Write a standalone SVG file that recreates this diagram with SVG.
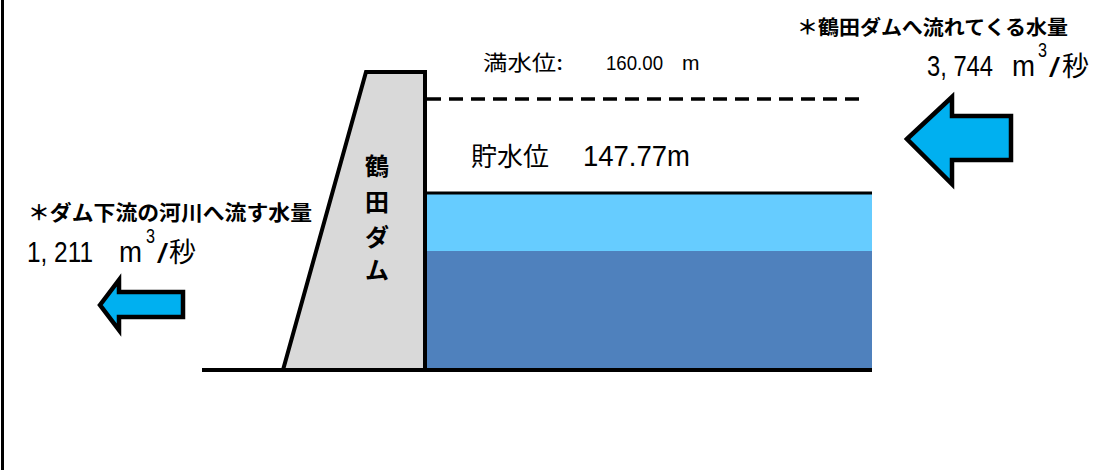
<svg xmlns="http://www.w3.org/2000/svg" width="1102" height="470" viewBox="0 0 1102 470">
<style>
.cjk{font-family:"Noto Sans CJK JP","Liberation Sans",sans-serif;fill:#000}
.num{font-family:"Liberation Sans","Noto Sans CJK JP",sans-serif;fill:#000}
.b{font-weight:bold}
.arrow{fill:#00B0F0;stroke:#000;stroke-width:4.5;stroke-linejoin:miter}
.ln{stroke:#000;fill:none}
</style>
<rect x="0" y="0" width="1102" height="470" fill="#fff"/>
<line class="ln" x1="2.5" y1="0" x2="2.5" y2="470" stroke-width="3"/>

<g id="water">
<rect x="427" y="193" width="445" height="58" fill="#66CCFF"/>
<rect x="427" y="251" width="445" height="119" fill="#4F81BD"/>
<line class="ln" x1="427" y1="193" x2="872" y2="193" stroke-width="3"/>
</g>

<g id="full-level">
<line class="ln" x1="427" y1="99" x2="864" y2="99" stroke-width="3.5" stroke-dasharray="14 8"/>
<text class="cjk" x="483" y="70" font-size="21" textLength="80" lengthAdjust="spacingAndGlyphs">満水位:</text>
<text class="num" x="606" y="70" font-size="21" textLength="57" lengthAdjust="spacingAndGlyphs">160.00</text>
<text class="num" x="682" y="70" font-size="21">m</text>
</g>

<g id="storage-level">
<text class="cjk" x="471" y="166" font-size="26">貯水位</text>
<text class="num" x="583" y="166" font-size="30" textLength="107" lengthAdjust="spacingAndGlyphs">147.77m</text>
</g>

<g id="ground">
<line class="ln" x1="202" y1="370" x2="872" y2="370" stroke-width="4"/>
</g>

<g id="dam">
<polygon points="366,72 425,72 425,370 283,370" fill="#D9D9D9" stroke="#000" stroke-width="4" stroke-linejoin="miter"/>
<text class="cjk b" x="377" y="175" font-size="24" text-anchor="middle" font-weight="900">鶴</text>
<text class="cjk b" x="377" y="211" font-size="24" text-anchor="middle" font-weight="900">田</text>
<text class="cjk b" x="377" y="246" font-size="24" text-anchor="middle" font-weight="900">ダ</text>
<text class="cjk b" x="377" y="279" font-size="24" text-anchor="middle" font-weight="900">ム</text>
</g>

<g id="inflow">
<text class="cjk b" x="797" y="35" font-size="20" textLength="271" lengthAdjust="spacingAndGlyphs">＊鶴田ダムへ流れてくる水量</text>
<text class="num" x="927" y="76" font-size="30" textLength="66" lengthAdjust="spacingAndGlyphs">3, 744</text>
<text class="num" x="1012" y="76" font-size="30" textLength="23" lengthAdjust="spacingAndGlyphs">m</text>
<text class="num" x="1038" y="57" font-size="20" textLength="9" lengthAdjust="spacingAndGlyphs">3</text>
<text class="num" x="1049" y="77" font-size="28" font-weight="300" textLength="11" lengthAdjust="spacingAndGlyphs">/</text>
<text class="cjk" x="1062" y="76" font-size="27">秒</text>
</g>

<g id="outflow">
<text class="cjk b" x="28" y="220" font-size="21" textLength="284" lengthAdjust="spacingAndGlyphs">＊ダム下流の河川へ流す水量</text>
<text class="num" x="27" y="262" font-size="30" textLength="66" lengthAdjust="spacingAndGlyphs">1, 211</text>
<text class="num" x="119" y="262" font-size="30" textLength="23" lengthAdjust="spacingAndGlyphs">m</text>
<text class="num" x="146" y="243" font-size="20" textLength="9" lengthAdjust="spacingAndGlyphs">3</text>
<text class="num" x="157" y="263" font-size="28" font-weight="300" textLength="11" lengthAdjust="spacingAndGlyphs">/</text>
<text class="cjk" x="169" y="262" font-size="27">秒</text>
</g>

<g id="connectors">
<polygon class="arrow" points="907,139 952,97 952,116 1011,116 1011,160 952,160 952,184"/>
<polygon class="arrow" points="100,305 119,280 119,292 183,292 183,317 119,317 119,330"/>
</g>
</svg>
